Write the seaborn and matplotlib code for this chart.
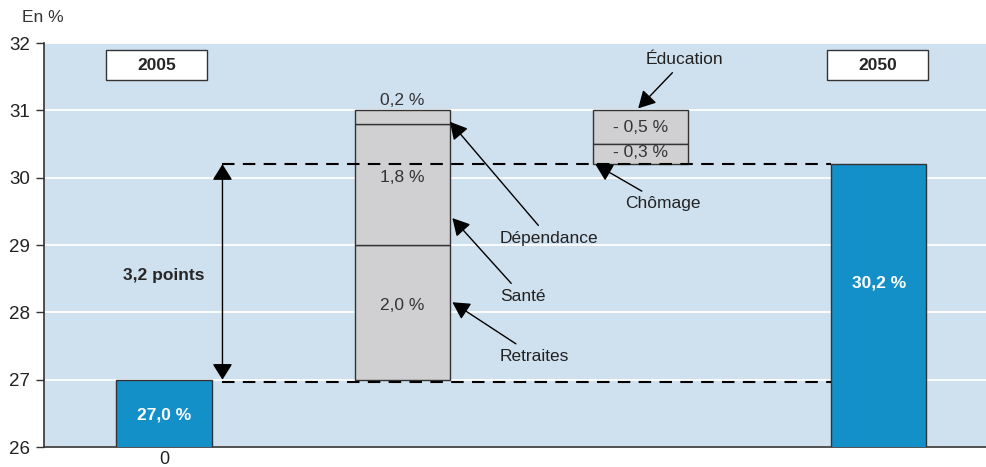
import numpy as np
import pandas as pd
import matplotlib
matplotlib.use("Agg")
import matplotlib.pyplot as plt
from matplotlib.patches import Rectangle
import seaborn as sns

# données
categories = ["2005", "hausses", "baisses", "2050"]
start_value = 27.0
end_value = 30.2
up_labels = ["Retraites", "Santé", "Dépendance"]
up_values = [2.0, 1.8, 0.2]
down_labels = ["Chômage", "Éducation"]
down_values = [-0.3, -0.5]
y_ticks = [26, 27, 28, 29, 30, 31, 32]

BG = "#cfe0ef"
BLUE = "#1490c9"
GREY = "#d0d0d2"
EDGE = "#333333"
W = 0.4
FS = 12.5

sns.set_theme(style="white")
plt.rcParams["font.family"] = ["Liberation Sans", "DejaVu Sans"]

fig = plt.figure(figsize=(9.87, 4.67), dpi=100)
ax = fig.add_axes([0.0446, 0.0428, 0.9554, 0.865])
ax.set_facecolor(BG)

# barres totales (2005 / 2050)
df = pd.DataFrame({"cat": [categories[0], categories[3]],
                   "val": [start_value, end_value]})
sns.barplot(data=df, x="cat", y="val", order=categories, color=BLUE,
            saturation=1, width=W, edgecolor=EDGE, linewidth=1, ax=ax, zorder=3)

# barre empilée des hausses
x_up = categories.index("hausses")
bottoms_up = start_value + np.concatenate([[0], np.cumsum(up_values)[:-1]])
ax.bar([x_up] * len(up_values), up_values, bottom=bottoms_up, width=W,
       color=GREY, edgecolor=EDGE, linewidth=1, zorder=3)
top_level = start_value + sum(up_values)

# barre empilée des baisses (depuis le haut)
x_dn = categories.index("baisses")
tops_dn = top_level + np.concatenate([[0], np.cumsum(down_values[::-1])[:-1]])
heights_dn = [abs(v) for v in down_values[::-1]]
bottoms_dn = tops_dn - np.array(heights_dn)
ax.bar([x_dn] * len(heights_dn), heights_dn, bottom=bottoms_dn, width=W,
       color=GREY, edgecolor=EDGE, linewidth=1, zorder=3)

x_end = categories.index("2050")

# axes
ax.set_ylim(26, 32)
ax.set_xlim(-0.504, 3.454)
ax.set_yticks(y_ticks)
ax.set_yticklabels([str(t) for t in y_ticks], fontsize=13.5, color="#222222")
ax.set_xticks([0])
ax.set_xticklabels(["0"], fontsize=13, color="#222222")
ax.set_xlabel("")
ax.set_ylabel("")
ax.tick_params(axis="y", length=6, width=1, color=EDGE, pad=4, left=True)
ax.tick_params(axis="x", length=0, pad=3)
ax.yaxis.grid(True, color="white", linewidth=1.3, zorder=0)
ax.set_axisbelow(True)
for s in ["top", "right"]:
    ax.spines[s].set_visible(False)
for s in ["left", "bottom"]:
    ax.spines[s].set_color(EDGE)
    ax.spines[s].set_linewidth(1.2)
ax.text(-0.023, 1.045, "En %", transform=ax.transAxes, fontsize=FS,
        color="#333333", ha="left", va="bottom")

# lignes de niveau pointillées
x0, x1 = 0 + W / 2 + 0.045, x_end - W / 2
for lvl in [start_value - 0.04, end_value]:
    ax.hlines(lvl, x0, x1, colors="black", linestyles=(0, (6, 4)),
              linewidth=1.5, zorder=4)

# double flèche 3,2 points
ax.annotate("", xy=(x0, start_value), xytext=(x0, end_value),
            arrowprops=dict(arrowstyle="<|-|>,head_length=0.35,head_width=0.22",
                            color="black", lw=1, mutation_scale=28,
                            shrinkA=0, shrinkB=0), zorder=5)
ax.text(0.0, 28.55, f"{end_value - start_value:.1f} points".replace(".", ","),
        fontsize=FS, fontweight="bold", ha="center", va="center")

# étiquettes années
for xc, lab in [(-0.03, categories[0]), (x_end - 0.005, categories[3])]:
    ax.add_patch(Rectangle((xc - 0.212, 31.45), 0.424, 0.445, facecolor="white",
                           edgecolor=EDGE, linewidth=1, zorder=4))
    ax.text(xc, 31.67, lab, fontsize=FS, fontweight="bold", ha="center",
            va="center", zorder=5)

# valeurs des barres totales
ax.text(0, 26.47, f"{start_value:.1f} %".replace(".", ","), color="white",
        fontsize=FS, fontweight="bold", ha="center", va="center", zorder=5)
ax.text(x_end, 28.43, f"{end_value:.1f} %".replace(".", ","), color="white",
        fontsize=FS, fontweight="bold", ha="center", va="center", zorder=5)

# valeurs des segments
fmt = lambda v: f"{v:.1f} %".replace(".", ",")
ax.text(x_up, 28.1, fmt(up_values[0]), fontsize=FS, color="#333333",
        ha="center", va="center", zorder=5)
ax.text(x_up, 30.0, fmt(up_values[1]), fontsize=FS, color="#333333",
        ha="center", va="center", zorder=5)
ax.text(x_up, 31.15, fmt(up_values[2]), fontsize=FS, color="#333333",
        ha="center", va="center", zorder=5)
ax.text(x_dn, 30.37, fmt(down_values[0]).replace("-", "- "), fontsize=FS,
        color="#333333", ha="center", va="center", zorder=5)
ax.text(x_dn, 30.75, fmt(down_values[1]).replace("-", "- "), fontsize=FS,
        color="#333333", ha="center", va="center", zorder=5)

# annotations flèches
arrow = dict(arrowstyle="-|>,head_length=0.4,head_width=0.22", color="black",
             lw=1, mutation_scale=26, shrinkA=2, shrinkB=0)
right_edge = x_up + W / 2
ax.annotate(up_labels[2], xy=(right_edge, 30.83), xytext=(1.41, 29.1),
            fontsize=FS, color="#222222", ha="left", va="center",
            arrowprops=arrow, zorder=5)
ax.annotate(up_labels[1], xy=(right_edge + 0.01, 29.4), xytext=(1.41, 28.24),
            fontsize=FS, color="#222222", ha="left", va="center",
            arrowprops=arrow, zorder=5)
ax.annotate(up_labels[0], xy=(right_edge + 0.01, 28.15), xytext=(1.41, 27.35),
            fontsize=FS, color="#222222", ha="left", va="center",
            arrowprops=arrow, zorder=5)
ax.annotate(down_labels[1], xy=(x_dn - 0.01, 31.03), xytext=(x_dn + 0.185, 31.75),
            fontsize=FS, color="#222222", ha="center", va="center",
            arrowprops=arrow, zorder=5)
ax.annotate(down_labels[0], xy=(x_dn - W / 2 + 0.01, 30.2), xytext=(1.935, 29.62),
            fontsize=FS, color="#222222", ha="left", va="center",
            arrowprops=arrow, zorder=5)

fig.savefig("out.png", dpi=100)
